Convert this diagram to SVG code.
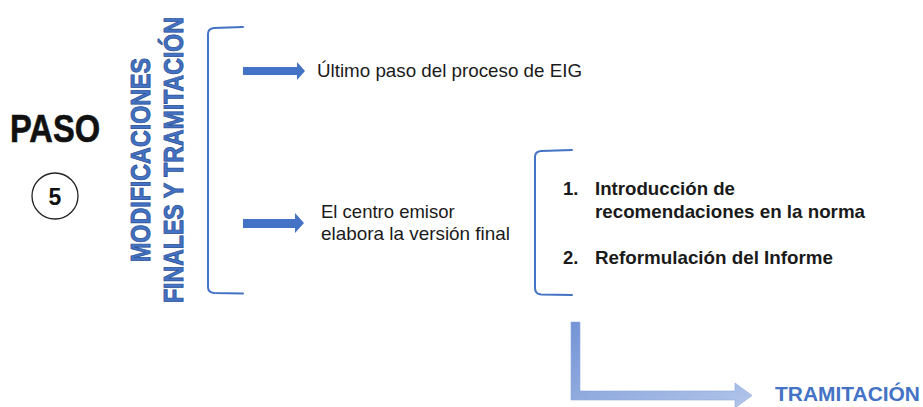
<svg xmlns="http://www.w3.org/2000/svg" width="923" height="407" viewBox="0 0 923 407">
<defs>
<linearGradient id="lg" x1="0" y1="0" x2="1" y2="1">
<stop offset="0" stop-color="#7393D5"/>
<stop offset="1" stop-color="#B3C6EA"/>
</linearGradient>
</defs>
<style>
.bracket{fill:none;stroke:#4472C4;stroke-width:2;stroke-linecap:round}
.arrow{fill:#4472C4}
.body{font-family:"Liberation Sans",Arial,sans-serif;font-size:18.5px;fill:#1a1a1a}
.item{font-family:"Liberation Sans",Arial,sans-serif;font-size:18.5px;font-weight:bold;fill:#1a1a1a}
.vert{font-family:"Liberation Sans",Arial,sans-serif;font-size:27px;font-weight:bold;fill:#4472C4;stroke:#2F5597;stroke-width:0.9}
</style>
<rect width="923" height="407" fill="#ffffff"/>
<g id="paso">
<text x="10" y="142" textLength="90" lengthAdjust="spacingAndGlyphs" style="font-family:'Liberation Sans',Arial,sans-serif;font-size:38px;font-weight:bold;fill:#111;stroke:#111;stroke-width:0.6">PASO</text>
</g>
<g id="step5">
<circle cx="55" cy="196" r="23" fill="none" stroke="#222" stroke-width="1.3"/>
<text x="55" y="205" text-anchor="middle" style="font-family:'Liberation Sans',Arial,sans-serif;font-size:23px;font-weight:bold;fill:#111">5</text>
</g>
<g id="title">
<text class="vert" transform="translate(150,160) rotate(-90)" text-anchor="middle" textLength="204" lengthAdjust="spacingAndGlyphs">MODIFICACIONES</text>
<text class="vert" transform="translate(183,160) rotate(-90)" text-anchor="middle" textLength="286" lengthAdjust="spacingAndGlyphs">FINALES Y TRAMITACIÓN</text>
</g>
<g id="connectors">
<path class="bracket" d="M243,27 L214,28 Q208,28.5 208,34 L208,287 Q208,292.5 214,293 L243,293.5"/>
<path class="bracket" d="M572,150 L541,151 Q535,151.5 535,157 L535,288 Q535,294 541,294.5 L572,295"/>
<polygon class="arrow" points="243,67 297,67 297,62 305,71 297,80 297,75 243,75"/>
<polygon class="arrow" points="243,219 295,219 295,213 304,223 295,233 295,228 243,228"/>
<polygon fill="url(#lg)" stroke="#8FA9DC" stroke-width="0.6" points="571,322 580,322 580,391 735,391 735,383 752,395.5 735,408 735,400 571,400"/>
</g>
<g id="n1">
<text class="body" x="317" y="77" textLength="265" lengthAdjust="spacingAndGlyphs">Último paso del proceso de EIG</text>
</g>
<g id="n2">
<text class="body" x="321" y="218">El centro emisor</text>
<text class="body" x="321" y="240" textLength="189" lengthAdjust="spacingAndGlyphs">elabora la versión final</text>
</g>
<g id="n3">
<text class="item" x="563" y="195">1.</text>
<text class="item" x="595" y="195" textLength="140" lengthAdjust="spacingAndGlyphs">Introducción de</text>
<text class="item" x="595" y="218" textLength="270" lengthAdjust="spacingAndGlyphs">recomendaciones en la norma</text>
<text class="item" x="563" y="264">2.</text>
<text class="item" x="595" y="264" textLength="238" lengthAdjust="spacingAndGlyphs">Reformulación del Informe</text>
</g>
<g id="n4">
<text x="775" y="401" textLength="145" lengthAdjust="spacingAndGlyphs" style="font-family:'Liberation Sans',Arial,sans-serif;font-size:20.5px;font-weight:bold;fill:#4472C4">TRAMITACIÓN</text>
</g>
</svg>
